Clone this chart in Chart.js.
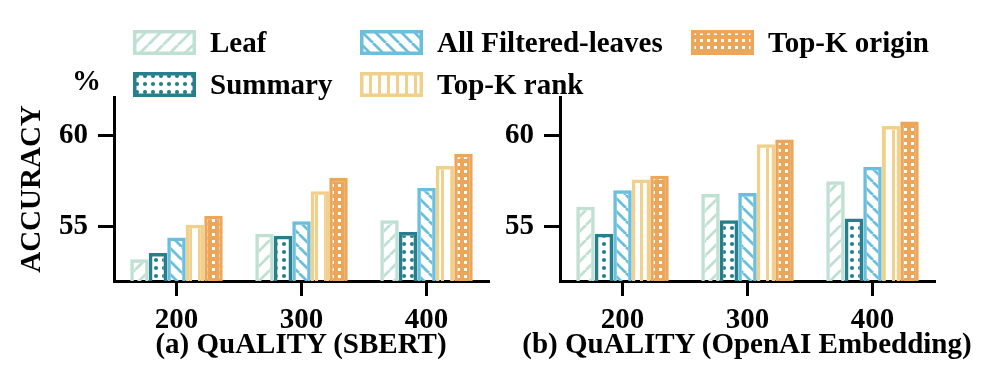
<!DOCTYPE html>
<html>
<head>
<meta charset="utf-8">
<script src="https://cdn.jsdelivr.net/npm/chart.js@4/dist/chart.umd.min.js"></script>
<style>
  html, body { margin: 0; padding: 0; background: #fff; }
  #wrap { position: relative; width: 996px; height: 385px; overflow: hidden;
          font-family: 'Liberation Serif', 'Times New Roman', serif; font-weight: bold; color: #000; }
  canvas { position: absolute; top: 0; }
  .txt { position: absolute; font-size: 29px; line-height: 29px; white-space: nowrap; z-index: 2; }
  .cap { transform: translateX(-50%); }
  .sw { position: absolute; z-index: 2; }
</style>
</head>
<body>
<div id="wrap">
  <canvas id="leftChart" width="496" height="385" style="left:0"></canvas>
  <canvas id="rightChart" width="500" height="385" style="left:496px"></canvas>
  <div class="txt" style="left:72px; top:66px">%</div>
  <div class="txt cap" style="left:301px; top:329px">(a) QuALITY (SBERT)</div>
  <div class="txt cap" style="left:747px; top:329px">(b) QuALITY (OpenAI Embedding)</div>
  <div id="legend"></div>
</div>
<script>
// data
const categories = ['200', '300', '400'];
const seriesNames = ['Leaf', 'Summary', 'All Filtered-leaves', 'Top-K rank', 'Top-K origin'];

const sbertLeaf = [53.2, 54.6, 55.35];
const sbertSummary = [53.55, 54.5, 54.7];
const sbertAllFiltered = [54.4, 55.3, 57.15];
const sbertTopKRank = [55.1, 56.95, 58.35];
const sbertTopKOrigin = [55.6, 57.7, 59.0];

const openaiLeaf = [56.1, 56.8, 57.5];
const openaiSummary = [54.6, 55.35, 55.45];
const openaiAllFiltered = [57.0, 56.85, 58.3];
const openaiTopKRank = [57.6, 59.55, 60.55];
const openaiTopKOrigin = [57.8, 59.8, 60.8];

const yTicks = [55, 60];
const yMin = 52;
const yMax = 62.15;

const colors = ['#bfe0d3', '#267f8b', '#6bbfdc', '#f1d08b', '#eba65a'];
const hatches = ['slash', 'dots', 'backslash', 'vert', 'grid'];

// hatch patterns
function makeTile(kind, color) {
  const c = document.createElement('canvas');
  const g = c.getContext('2d');
  if (kind === 'slash' || kind === 'backslash') {
    const s = kind === 'slash' ? 15 : 13;
    c.width = s; c.height = s;
    g.strokeStyle = color; g.lineWidth = 2.8;
    g.beginPath();
    for (let k = -1; k <= 1; k++) {
      if (kind === 'slash') { g.moveTo(k * s, s); g.lineTo(k * s + s, 0); }
      else { g.moveTo(k * s, 0); g.lineTo(k * s + s, s); }
    }
    g.stroke();
  } else if (kind === 'dots') {
    c.width = 8; c.height = 8;
    g.fillStyle = color;
    g.beginPath(); g.arc(4, 4, 2.1, 0, Math.PI * 2); g.fill();
  } else if (kind === 'vert') {
    c.width = 9; c.height = 4;
    g.fillStyle = color; g.fillRect(0, 0, 3, 4);
  } else {
    c.width = 7; c.height = 7;
    g.fillStyle = color; g.fillRect(0, 0, 7, 7);
    g.fillStyle = '#fff'; g.fillRect(2, 2, 3, 3);
  }
  return c;
}

function makePattern(ctx, i) {
  return ctx.createPattern(makeTile(hatches[i], colors[i]), 'repeat');
}

const font = { family: "'Liberation Serif', 'Times New Roman', serif", weight: 'bold', size: 29 };

function buildChart(id, series, yWidth, padRight, showTitle) {
  const ctx = document.getElementById(id).getContext('2d');
  return new Chart(ctx, {
    type: 'bar',
    data: {
      labels: categories,
      datasets: series.map((vals, i) => ({
        label: seriesNames[i],
        data: vals,
        backgroundColor: makePattern(ctx, i),
        borderColor: colors[i],
        borderWidth: 3.5,
        barPercentage: 1,
        categoryPercentage: 0.74
      }))
    },
    options: {
      responsive: false,
      animation: false,
      layout: { padding: { left: 0, top: 97, right: padRight, bottom: 0 } },
      plugins: { legend: { display: false }, tooltip: { enabled: false } },
      scales: {
        x: {
          afterFit: s => { s.height = 104; },
          grid: { drawOnChartArea: false, offset: false, tickLength: 15, tickWidth: 3, tickColor: '#000' },
          border: { display: true, width: 3, color: '#000' },
          ticks: { color: '#000', font: font, padding: 7 }
        },
        y: {
          min: yMin,
          max: yMax,
          afterFit: s => { s.width = yWidth; },
          afterBuildTicks: s => { s.ticks = yTicks.map(v => ({ value: v })); },
          grid: { drawOnChartArea: false, tickLength: 16, tickWidth: 3, tickColor: '#000' },
          border: { display: true, width: 3, color: '#000' },
          ticks: { color: '#000', font: font, padding: 10 },
          title: { display: showTitle, text: 'ACCURACY', color: '#000', font: font, padding: { top: 15, bottom: 0 } }
        }
      }
    }
  });
}

buildChart('leftChart', [sbertLeaf, sbertSummary, sbertAllFiltered, sbertTopKRank, sbertTopKOrigin], 114, 7, true);
buildChart('rightChart', [openaiLeaf, openaiSummary, openaiAllFiltered, openaiTopKRank, openaiTopKOrigin], 64, 61, false);

// legend, column-major: two rows
const legendCols = [133, 360, 691];
const legendRows = [30, 72];
const legend = document.getElementById('legend');
seriesNames.forEach((name, i) => {
  const col = Math.floor(i / 2), row = i % 2;
  const sw = document.createElement('canvas');
  sw.width = 63; sw.height = 25;
  sw.className = 'sw';
  sw.style.left = legendCols[col] + 'px';
  sw.style.top = legendRows[row] + 'px';
  const g = sw.getContext('2d');
  g.fillStyle = makePattern(g, i);
  g.fillRect(0, 0, 63, 25);
  g.strokeStyle = colors[i]; g.lineWidth = 3.5;
  g.strokeRect(1.75, 1.75, 59.5, 21.5);
  legend.appendChild(sw);
  const t = document.createElement('div');
  t.className = 'txt';
  t.textContent = name;
  t.style.left = (legendCols[col] + 77) + 'px';
  t.style.top = (legendRows[row] - 2) + 'px';
  legend.appendChild(t);
});
</script>
</body>
</html>
